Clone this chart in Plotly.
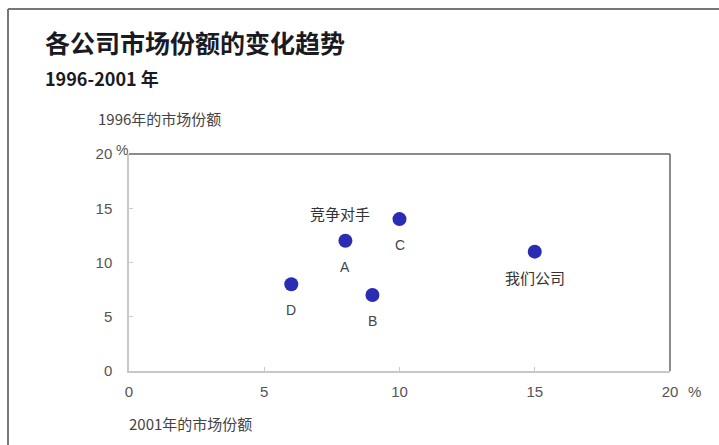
import plotly.graph_objects as go

# Market share per company: 2001 (x) vs 1996 (y), in percent
companies = ["A", "B", "C", "D", "我们公司"]
share_2001 = [8, 9, 10, 6, 15]
share_1996 = [12, 7, 14, 8, 11]

x_ticks = [0, 5, 10, 15, 20]
x_tick_text = ["0", "5", "10", "15", "20"]
y_ticks = [0, 5, 10, 15, 20]
y_tick_text = ["0", "5", "10", "15", "20"]

CJK = "Noto Sans CJK SC"
NUM = "Liberation Sans"
DOT = "#2a2cb4"
TXT = "#444444"

fig = go.Figure()
fig.add_trace(go.Scatter(
    x=share_2001, y=share_1996, mode="markers",
    marker=dict(size=14, color=DOT, line=dict(width=0)),
    hoverinfo="skip", showlegend=False,
))

annotations = []
for name, xv, yv in zip(companies, share_2001, share_1996):
    wide = len(name) > 1
    annotations.append(dict(
        x=xv, y=yv, xref="x", yref="y", text=name, showarrow=False,
        yshift=-26, font=dict(family=CJK if wide else NUM, size=15 if wide else 14,
                              color="#333333" if wide else TXT),
    ))
# group label for the competitors
annotations.append(dict(
    x=8, y=14.5, xref="x", yref="y", text="竞争对手", showarrow=False,
    xshift=-5, font=dict(family=CJK, size=15, color="#333333"),
))
# percent signs next to the top tick labels
annotations += [
    dict(x=0, y=20, xref="x", yref="y", text="%", showarrow=False,
         xshift=-7, yshift=4, font=dict(family=NUM, size=14, color="#555555")),
    dict(x=20, y=0, xref="x", yref="y", text="%", showarrow=False,
         xshift=24, yshift=-20, font=dict(family=NUM, size=15, color="#555555")),
]
# titles
annotations += [
    dict(x=43, y=42, xref="paper", yref="paper", text="<b>各公司市场份额的变化趋势</b>",
         showarrow=False, xanchor="left", yanchor="middle",
         font=dict(family=CJK, size=25, color="#1a1a24")),
    dict(x=43, y=78, xref="paper", yref="paper", text="<b>1996-2001 年</b>",
         showarrow=False, xanchor="left", yanchor="middle",
         font=dict(family=CJK, size=18, color="#1a1a24")),
    dict(x=96, y=118, xref="paper", yref="paper", text="1996年的市场份额",
         showarrow=False, xanchor="left", yanchor="middle",
         font=dict(family=CJK, size=15, color=TXT)),
    dict(x=127, y=423, xref="paper", yref="paper", text="2001年的市场份额",
         showarrow=False, xanchor="left", yanchor="middle",
         font=dict(family=CJK, size=15, color=TXT)),
]

W, H = 719, 445
L, R, T, B = 129, 49, 154, 74

# convert pixel positions used above for paper-anchored annotations
for a in annotations:
    if a.get("xref") == "paper":
        a["x"] = (a["x"] - L) / (W - L - R)
        a["y"] = 1 - (a["y"] - T) / (H - T - B)

shapes = [
    # outer frame lines
    dict(type="line", xref="paper", yref="paper",
         x0=(8 - L) / (W - L - R), x1=(W - L) / (W - L - R),
         y0=1 + (T - 9) / (H - T - B), y1=1 + (T - 9) / (H - T - B),
         line=dict(color="#777777", width=2)),
    dict(type="line", xref="paper", yref="paper",
         x0=(8 - L) / (W - L - R), x1=(8 - L) / (W - L - R),
         y0=1 + (T - 9) / (H - T - B), y1=-B / (H - T - B),
         line=dict(color="#777777", width=2)),
    # dark top and right edges of the plot area
    dict(type="line", xref="paper", yref="paper", x0=0, x1=1, y0=1, y1=1,
         line=dict(color="#666666", width=1.5)),
    dict(type="line", xref="paper", yref="paper", x0=1, x1=1, y0=0, y1=1,
         line=dict(color="#666666", width=1.5)),
]

fig.update_layout(
    width=W, height=H,
    margin=dict(l=L, r=R, t=T, b=B),
    paper_bgcolor="white", plot_bgcolor="white",
    annotations=annotations, shapes=shapes,
    xaxis=dict(range=[0, 20], tickvals=x_ticks, ticktext=x_tick_text,
               showgrid=False, zeroline=False, showline=True,
               linecolor="#c8c8c8", linewidth=1.5,
               ticks="inside", ticklen=4, tickcolor="#cccccc",
               ticklabelstandoff=6,
               tickfont=dict(family=NUM, size=15, color="#555555"),
               fixedrange=True),
    yaxis=dict(range=[0, 20], tickvals=y_ticks, ticktext=y_tick_text,
               showgrid=False, zeroline=False, showline=True,
               linecolor="#c8c8c8", linewidth=1.5,
               ticks="inside", ticklen=4, tickcolor="#cccccc",
               ticklabelstandoff=12,
               tickfont=dict(family=NUM, size=15, color="#555555"),
               fixedrange=True),
)

fig.write_html("out.html")
